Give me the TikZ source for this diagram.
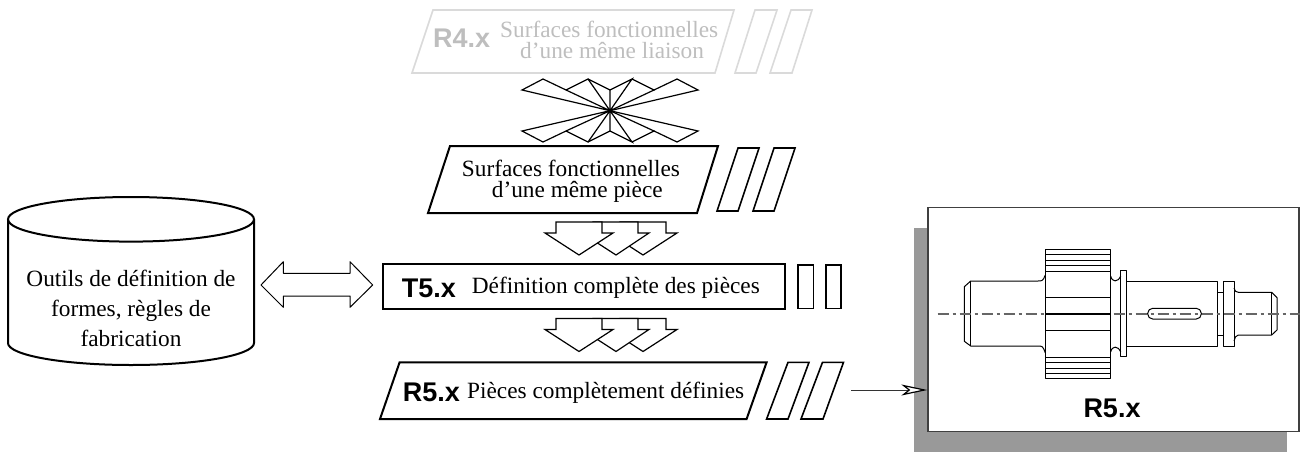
\documentclass[tikz,border=0pt]{standalone}
\usepackage{fontspec}
\setmainfont{Liberation Serif}
\newfontfamily\labelfont{Liberation Sans}
\usetikzlibrary{arrows.meta}
\definecolor{faded}{HTML}{DADADA}
\definecolor{fadedtext}{HTML}{BEBEBE}
\definecolor{shadow}{HTML}{999999}
\definecolor{axisgrey}{HTML}{666666}
\tikzset{
  x=1pt,y=-1pt,
  heavy/.style={draw=black,line width=2pt,line join=miter},
  medium/.style={draw=black,line width=1.6pt,line join=miter},
  ghost/.style={draw=faded,line width=1.6pt,line join=miter},
  thin part/.style={draw=black,line width=1.2pt,line join=miter},
  part/.style={draw=black,line width=1pt,line join=round},
  body text/.style={inner sep=0pt,font=\fontsize{23.3}{21}\selectfont,align=left},
  code label/.style={inner sep=0pt,font=\labelfont\bfseries\fontsize{27}{27}\selectfont},
  triarrow/.pic={
    \path[thin part,fill=white] (620,222)--(666,222)--(666,233)--(677,233)--(643,255)--(609,233)--(620,233)--cycle;
    \path[thin part,fill=white] (593,222)--(638,222)--(638,233)--(649,233)--(616,255)--(582,233)--(593,233)--cycle;
    \path[thin part,fill=white] (556,222)--(602,222)--(602,233)--(613,233)--(579,255)--(545,233)--(556,233)--cycle;
  }
}
\begin{document}
\begin{tikzpicture}
\useasboundingbox (0,0) rectangle (1300,452);

% R4 (faded)
\draw[ghost] (433,10)--(734,10)--(715,73)--(412,73)--cycle;
\draw[ghost] (755,10)--(777,10)--(756,73)--(735,73)--cycle;
\draw[ghost] (791,10)--(812,10)--(792,73)--(770,73)--cycle;
\node[code label,text=fadedtext,anchor=base west] (r4code) at (433,48) {R4.x};
\node[body text,text=fadedtext,anchor=base west] (r4text) at (500,58.3) {Surfaces fonctionnelles\\\hspace*{20pt}d’une même liaison};

% Star of arrows
\draw[thin part] (610,110.7)--(522,90)--(543,79)--(566,90)--(610,110.7)--(588,79)--(566,90);
\draw[thin part] (610,110.7)--(610,90)--(588,79);
\draw[thin part] (610,90)--(632,79)--(610,110.7)--(654,90)--(632,79);
\draw[thin part] (654,90)--(677,79)--(698,90)--(610,110.7);
\draw[thin part] (610,110.7)--(522,131)--(543,142)--(566,131)--(610,110.7)--(588,142)--(566,131);
\draw[thin part] (610,110.7)--(610,131)--(588,142);
\draw[thin part] (610,131)--(632,142)--(610,110.7)--(654,131)--(632,142);
\draw[thin part] (654,131)--(677,142)--(698,131)--(610,110.7);
\fill (610,110.7) circle (2.2);

% Surfaces fonctionnelles
\draw[heavy] (450,146)--(718,146)--(697,213)--(428,213)--cycle;
\draw[medium] (738,148)--(759,148)--(738,211)--(717,211)--cycle;
\draw[medium] (774,148)--(795,148)--(774,211)--(753,211)--cycle;
\node[body text,anchor=base west] (surf) at (461.7,197) {Surfaces fonctionnelles\\\hspace*{30pt}d’une même pièce};

\pic {triarrow};

% T5
\node[heavy,minimum width=402.3pt,minimum height=45.3pt,inner sep=0pt] (t5) at (583.85,286.65) {};
\draw[medium] (797.7,265) rectangle (813.3,308.3);
\draw[medium] (825.7,265) rectangle (841,308.3);
\node[code label,anchor=base west] (t5code) at (401.7,297) {T5.x};
\node[body text,anchor=base west] (t5text) at (471.7,293.3) {Définition complète des pièces};

\begin{scope}[yshift=-96.5pt]
\pic {triarrow};
\end{scope}

% R5
\draw[heavy] (399.6,362.3)--(766.6,362.3)--(746.6,419)--(380,419)--cycle;
\draw[medium] (788,362.3)--(809,362.3)--(788,419)--(766.6,419)--cycle;
\draw[medium] (822.5,362.3)--(843.5,362.3)--(823,419)--(801,419)--cycle;
\node[code label,anchor=base west] (r5code) at (402.6,401) {R5.x};
\node[body text,anchor=base west] (r5text) at (467,398) {Pièces complètement définies};

% Cylinder
\draw[heavy] (8,219.3) -- (8,343) arc[start angle=180,end angle=0,x radius=123,y radius=22] -- (254,219.3);
\draw[heavy] (131,219.3) ellipse [x radius=123,y radius=22.3];
\node[inner sep=0pt,font=\fontsize{23.3}{30}\selectfont,align=center] (tools) at (131,308.5) {Outils de définition de\\formes, règles de\\fabrication};

% Double arrow
\draw[part] (261,285)--(283.3,261.7)--(283.3,273.3)--(350,273.3)--(350,261.7)--(372.7,285)--(350,307.3)--(350,296)--(283.3,296)--(283.3,307.3)--cycle;

% Drawing panel
\fill[shadow] (914,228) rectangle (1287,452);
\node[draw=black!75,fill=white,line width=1.3pt,minimum width=371pt,minimum height=224.4pt,inner sep=0pt] (panel) at (1113.5,319.5) {};

% Shaft
\draw[part] (1045.3,249.3) rectangle (1110.7,378.7);
\foreach \yy in {254.3,260,265.7,271,297.3,330.7,357,362.3,368,373.7}
  \draw[part] (1045.3,\yy)--(1110.7,\yy);
\draw[part] (1045.3,275) .. controls (1043,281) and (1042,281) .. (1038,281) -- (970.7,281) -- (964.3,286.7) -- (964.3,341.3) -- (970.7,346) -- (1038,346) .. controls (1042,346) and (1043,346) .. (1045.3,353);
\draw[part] (970.7,281)--(970.7,346);
\draw[part] (1110.7,276) .. controls (1112,282.5) and (1118,282.5) .. (1120.7,276);
\draw[part] (1110.7,352) .. controls (1112,345.5) and (1118,345.5) .. (1120.7,352);
\draw[part] (1120.7,270.7) rectangle (1126.3,356.7);
\draw[part] (1126.3,281.3)--(1217.7,281.3)--(1217.7,346)--(1126.3,346);
\draw[part] (1217.7,292.3)--(1223,292.3);
\draw[part] (1217.7,335)--(1223,335);
\draw[part] (1223,281.3) rectangle (1234,346);
\draw[part] (1234,288) .. controls (1234.5,291) and (1236,292.3) .. (1238.3,292.3) -- (1271.7,292.3) -- (1277,297.7) -- (1277,330) -- (1271.7,335) -- (1238.3,335) .. controls (1236,335) and (1234.5,338) .. (1234,341);
\draw[part] (1271.7,292.3)--(1271.7,335);
\draw[part,rounded corners=5pt] (1147.7,308.3) rectangle (1201.3,319);
\draw[axisgrey,line width=1.8pt,dash pattern=on 11pt off 4pt on 3pt off 4pt] (937.7,314)--(1300,314);
\draw[black,line width=2pt] (1045.3,314)--(1110.7,314);
\node[code label,anchor=base] (r5panel) at (1112,417) {R5.x};

% Arrow to the panel
\coordinate (outstart) at (851,390);
\draw[line width=1pt,black!80,-{Stealth[open,fill=white,color=black,line width=1.2pt,length=26pt,width=11pt,inset=7pt]}] (outstart) -- (outstart -| panel.west);
\end{tikzpicture}
\end{document}
